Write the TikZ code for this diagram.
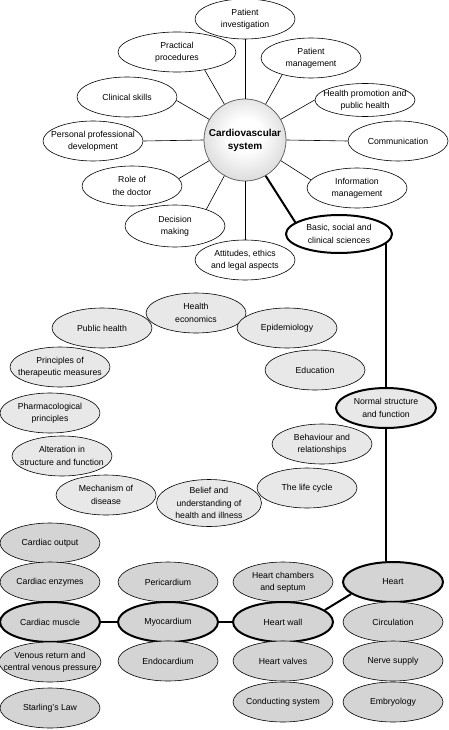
\documentclass[tikz,border=0pt]{standalone}
\usepackage{fontspec}
\setmainfont{Liberation Sans}
\usetikzlibrary{shapes.geometric}
\pgfdeclareradialshading{ball}{\pgfpoint{0bp}{4bp}}{color(0bp)=(white); color(10bp)=(white); color(30bp)=(black!16); color(44bp)=(black!32); color(50bp)=(black!34)}

\begin{document}
\begin{tikzpicture}[x=1pt,y=-1pt,
  base/.style={draw,ellipse,line width=0.6pt,minimum width=100pt,minimum height=40pt,inner xsep=-14pt,inner ysep=0pt,align=center,font=\fontsize{8.7}{12.3}\selectfont},
  skill/.style={base,fill=white},
  topic/.style={base,fill=black!9},
  organ/.style={base,fill=black!17},
  key/.style={line width=2pt},
  hub/.style={circle,draw=black!60,line width=0.8pt,minimum size=82pt,inner sep=0pt,shading=ball,align=center,font=\fontsize{10}{13}\selectfont\bfseries},
  spoke/.style={line width=0.6pt},
  link/.style={line width=2pt}
]
\useasboundingbox (0,0) rectangle (448,730);

% centre and skills ring
\node[hub] (cvs) at (245,140) {Cardiovascular\\system};
\node[skill] (pinv) at (245,19) {Patient\\investigation};
\node[skill,minimum width=118pt] (prac) at (177,52) {Practical\\procedures};
\node[skill] (pman) at (311,58) {Patient\\management};
\node[skill,minimum height=33pt] (hprom) at (365,100) {Health promotion and\\public health};
\node[skill] (clin) at (127,97) {Clinical skills};
\node[skill] (ppd) at (93,141) {Personal professional\\development};
\node[skill] (comm) at (398,141) {Communication};
\node[skill] (role) at (132,186) {Role of\\the doctor};
\node[skill] (info) at (357,188) {Information\\management};
\node[skill,minimum height=42pt] (dec) at (175,226) {Decision\\making};
\node[skill] (att) at (245,260) {Attitudes, ethics\\and legal aspects};
\node[skill,key,minimum width=106pt,minimum height=38pt] (basic) at (339,234) {Basic, social and\\clinical sciences};

\foreach \a/\n/\e in {90/pinv/south,60/pman/210,30/hprom/west,0/comm/west,-30/info/170,-90/att/north,-120/dec/28,-150/role/9,180/ppd/east,150/clin/-4,120/prac/-33}
  \draw[spoke] (cvs.\a) -- (\n.\e);

% sciences
\node[topic] (heco) at (196,313) {Health\\economics};
\node[topic] (pubh) at (102,328) {Public health};
\node[topic] (epid) at (287,328) {Epidemiology};
\node[topic] (ther) at (60,367) {Principles of\\therapeutic measures};
\node[topic] (educ) at (315,370) {Education};
\node[topic,key] (norm) at (386,408) {Normal structure\\and function};
\node[topic] (pharm) at (50,413) {Pharmacological\\principles};
\node[topic] (behav) at (322,444) {Behaviour and\\relationships};
\node[topic] (alter) at (62,456) {Alteration in\\structure and function};
\node[topic] (mech) at (106,495) {Mechanism of\\disease};
\node[topic] (life) at (307,488) {The life cycle};
\node[topic,minimum width=105pt,minimum height=47pt] (belief) at (209,503) {Belief and\\understanding of\\health and illness};

% structure
\node[organ] (cout) at (50,543) {Cardiac output};
\node[organ] (cenz) at (50,582) {Cardiac enzymes};
\node[organ,key] (cmus) at (50,622) {Cardiac muscle};
\node[organ,minimum width=102pt] (venous) at (50,662) {Venous return and\\central venous pressure};
\node[organ] (starl) at (50,708) {Starling's Law};
\node[organ] (peri) at (168,582) {Pericardium};
\node[organ,key] (myo) at (168,622) {Myocardium};
\node[organ] (endo) at (168,661) {Endocardium};
\node[organ] (hcham) at (283,582) {Heart chambers\\and septum};
\node[organ,key] (hwall) at (283,622) {Heart wall};
\node[organ] (hvalv) at (283,661) {Heart valves};
\node[organ] (cond) at (283,702) {Conducting system};
\node[organ,key] (heart) at (393,582) {Heart};
\node[organ] (circ) at (393,622) {Circulation};
\node[organ] (nerve) at (393,661) {Nerve supply};
\node[organ] (embr) at (393,702) {Embryology};

\draw[link] (cvs.-60) -- (basic.165);
\draw[link] (norm.north) -- (norm.north |- basic.-10);
\draw[link] (norm.south) -- (norm.south |- heart.north);
\draw[link] (cmus) -- (myo);
\draw[link] (myo) -- (hwall);
\draw[link] (hwall.16) -- (heart.196);
\end{tikzpicture}
\end{document}
